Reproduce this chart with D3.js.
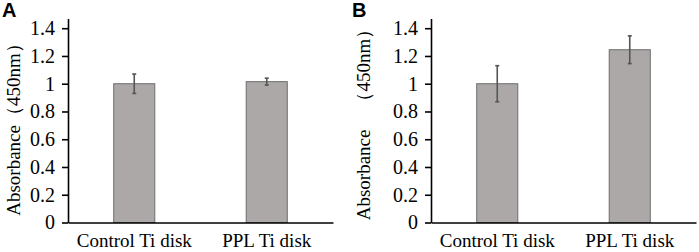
<!DOCTYPE html>
<html>
<head>
<meta charset="utf-8">
<script src="https://cdn.jsdelivr.net/npm/d3@7"></script>
<style>
  html, body { margin: 0; padding: 0; background: #fff; }
  svg text { font-family: "Liberation Serif", "Times New Roman", serif; }
</style>
</head>
<body>
<div id="chart"></div>
<script>
(function () {
  // data
  const categories = ["Control Ti disk", "PPL Ti disk"];
  const valuesA = [1.0, 1.015];
  const errorsA = [0.07, 0.025];
  const valuesB = [1.0, 1.245];
  const errorsB = [0.13, 0.10];
  const tickValues = [0, 0.2, 0.4, 0.6, 0.8, 1, 1.2, 1.4];
  const tickLabels = ["0", "0.2", "0.4", "0.6", "0.8", "1", "1.2", "1.4"];
  const panelLetters = ["A", "B"];
  const yLabels = ["Absorbance（450nm）", "Absorbance　（450nm）"];

  const width = 699, height = 252;
  const svg = d3.select("#chart").append("svg")
    .attr("width", width)
    .attr("height", height);

  const plotW = 265;
  const yTop = 1.47;
  const y = d3.scaleLinear().domain([0, yTop]).range([222.5, 18.5]);

  function drawPanel(left, idx, values, errors) {
    const data = categories.map((c, i) => ({ cat: c, value: values[i], err: errors[i] }));
    const g = svg.append("g").attr("transform", `translate(${left},0)`);

    const x = d3.scaleBand()
      .domain(categories)
      .range([0, plotW])
      .paddingInner(0.69)
      .paddingOuter(0.345);

    // bars
    g.selectAll(".bar")
      .data(data)
      .join("rect")
      .attr("class", "bar")
      .attr("x", d => x(d.cat))
      .attr("y", d => y(d.value))
      .attr("width", x.bandwidth())
      .attr("height", d => y(0) - y(d.value))
      .attr("fill", "#aca8a8")
      .attr("stroke", "#6e6e6e")
      .attr("stroke-width", 1);

    // error bars
    const cx = d => x(d.cat) + x.bandwidth() / 2;
    const eb = g.selectAll(".err")
      .data(data)
      .join("g")
      .attr("class", "err")
      .attr("stroke", "#555")
      .attr("stroke-width", 1.6);
    eb.append("line")
      .attr("x1", cx).attr("x2", cx)
      .attr("y1", d => y(d.value - d.err))
      .attr("y2", d => y(d.value + d.err));
    eb.append("line")
      .attr("x1", d => cx(d) - 2).attr("x2", d => cx(d) + 2)
      .attr("y1", d => y(d.value + d.err))
      .attr("y2", d => y(d.value + d.err));
    eb.append("line")
      .attr("x1", d => cx(d) - 2).attr("x2", d => cx(d) + 2)
      .attr("y1", d => y(d.value - d.err))
      .attr("y2", d => y(d.value - d.err));

    // y axis
    g.append("g")
      .call(d3.axisLeft(y)
        .tickValues(tickValues)
        .tickFormat((d, i) => tickLabels[i])
        .tickSize(6)
        .tickSizeOuter(0)
        .tickPadding(7))
      .call(a => a.select(".domain").attr("stroke", "#000").attr("stroke-width", 1.6))
      .call(a => a.selectAll(".tick line").attr("stroke", "#000").attr("stroke-width", 1.6))
      .call(a => a.selectAll(".tick text")
        .attr("fill", "#000")
        .style("font-family", "'Liberation Serif', serif")
        .style("font-size", "20px"));

    // x axis
    g.append("g")
      .attr("transform", `translate(0,${y(0)})`)
      .call(d3.axisBottom(x).tickSize(0).tickPadding(11))
      .call(a => a.select(".domain").attr("stroke", "#000").attr("stroke-width", 1.6))
      .call(a => a.selectAll(".tick text")
        .attr("fill", "#000")
        .style("font-family", "'Liberation Serif', serif")
        .style("font-size", "19px"));

    // y label
    const labelX = idx === 0 ? 13 : 363;
    g.append("text")
      .attr("transform", `translate(${labelX - left},${idx === 0 ? 125 : 120}) rotate(-90)`)
      .attr("text-anchor", "middle")
      .attr("dy", "0.35em")
      .style("font-size", "19px")
      .text(yLabels[idx]);

    // panel letter
    svg.append("text")
      .attr("x", idx === 0 ? 2 : 352)
      .attr("y", 17)
      .style("font-family", "'Liberation Sans', Arial, sans-serif")
      .style("font-weight", "700")
      .style("font-size", "20px")
      .text(panelLetters[idx]);
  }

  drawPanel(68, 0, valuesA, errorsA);
  drawPanel(431, 1, valuesB, errorsB);
})();
</script>
</body>
</html>
